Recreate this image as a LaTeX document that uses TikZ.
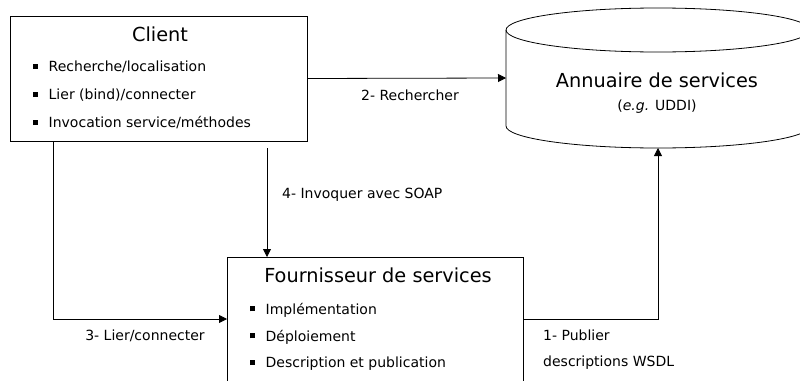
\documentclass[tikz,border=0pt]{standalone}
\usepackage{fontspec}
\setmainfont{DejaVu Sans}
\usetikzlibrary{arrows.meta}
\newcommand\puce{\rule[0.2em]{5pt}{5pt}}
\tikzset{
	boite/.style={draw, line width=0.8pt, inner sep=0pt, outer sep=0pt},
	titre/.style={inner sep=0pt, font=\fontsize{19.3}{21}\selectfont},
	item/.style={anchor=west, inner sep=0pt, font=\fontsize{14}{16}\selectfont},
	etiq/.style={inner sep=0pt, font=\fontsize{14}{16}\selectfont},
	fleche/.style={line width=0.8pt, -{Triangle[length=8pt,width=8pt]}},
}
\begin{document}
\begin{tikzpicture}[x=1pt,y=-1pt]
			\clip (0,0) rectangle (800,380);
			% client
			\node[boite, minimum width=297pt, minimum height=125pt] (client) at (158.5,78.5){};
			\node[titre] (ct) at (160,34){Client};
			\foreach\t [count=\i, evaluate=\i as \y using {67+28*(\i-1)}] in {{Recherche/localisation},{Lier (bind)/connecter},{Invocation service/méthodes}}{
				\node[item] (c\i) at (32.5,\y){\puce\hspace{11pt}\t};
			}
			% fournisseur
			\node[boite, minimum width=296pt, minimum height=124pt] (fs) at (375,319){};
			\node[titre] (ft) at (378,275){Fournisseur de services};
			\foreach\t [count=\i, evaluate=\i as \y using {310+27*(\i-1)}] in {{Implémentation},{Déploiement},{Description et publication}}{
				\node[item] (f\i) at (249.5,\y){\puce\hspace{11pt}\t};
			}
			% annuaire
			\node[inner sep=0pt, outer sep=0pt, minimum width=304pt, minimum height=140pt] (an) at (658,78){};
			\draw[line width=0.8pt] ([yshift=-22pt]an.north west) -- ([yshift=22pt]an.south west)
				arc[start angle=180, end angle=0, x radius=152, y radius=22] -- ([yshift=-22pt]an.north east);
			\draw[line width=0.8pt] ([yshift=-22pt]an.north) ellipse[x radius=152, y radius=22];
			\node[titre] (ant) at (657,80){Annuaire de services};
			\node[etiq] (ane) at (657,107){(\textit{e.g.} UDDI)};
			% connecteurs
			\coordinate (d4) at (267,148);
			\draw[fleche] (client.east) to (an.west);
			\draw[fleche] (client.south west) ++(43,0) |- (fs.west);
			\draw[fleche] (d4) to (d4 |- fs.north);
			\draw[fleche] (fs.east) -| (an.south);
			\node[etiq] (e2) at (410,95){2- Rechercher};
			\node[etiq] (e3) at (145,336){3- Lier/connecter};
			\node[etiq, anchor=west] (e4) at (282,195){4- Invoquer avec SOAP};
			\node[etiq, anchor=west, align=left, font=\fontsize{14}{26}\selectfont] (e1) at (543,350){1- Publier\\descriptions WSDL};
		\end{tikzpicture}
\end{document}
